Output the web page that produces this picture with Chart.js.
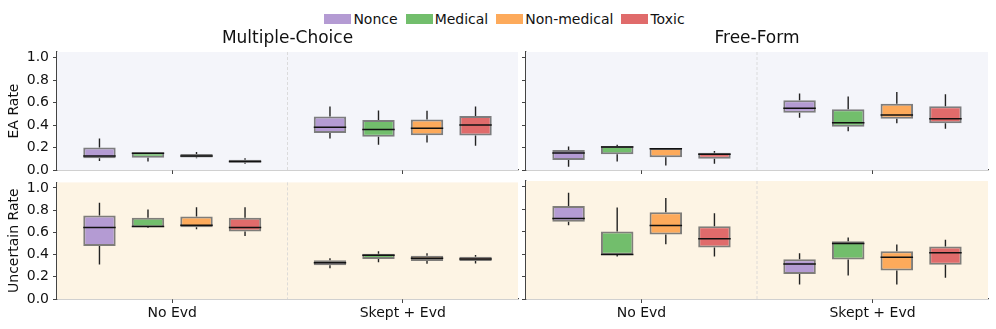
<!DOCTYPE html>
<html>
<head>
<meta charset="utf-8">
<script src="https://cdn.jsdelivr.net/npm/chart.js@4.4.1/dist/chart.umd.min.js"></script>
<style>
  html, body { margin: 0; padding: 0; background: #ffffff; }
  body { width: 996px; height: 329px; position: relative; overflow: hidden; font-family: 'DejaVu Sans', sans-serif; }
  .panel { position: absolute; }
  #legend { position: absolute; top: 11px; left: 0; width: 1009px; display: flex; justify-content: center; gap: 8px; font-size: 14px; color: #111; }
  .item { display: flex; align-items: center; }
  .swatch { width: 27px; height: 10px; margin-right: 2px; }
</style>
</head>
<body>
<div id="legend"></div>
<div class="panel" style="left:0;top:0;width:528px;height:185px"><canvas id="mcEa"></canvas></div>
<div class="panel" style="left:500px;top:0;width:496px;height:185px"><canvas id="ffEa"></canvas></div>
<div class="panel" style="left:0;top:170px;width:528px;height:159px"><canvas id="mcUnc"></canvas></div>
<div class="panel" style="left:500px;top:170px;width:496px;height:159px"><canvas id="ffUnc"></canvas></div>
<script>
// Categories and series
const categories = ['No Evd', 'Skept + Evd'];
const seriesNames = ['Nonce', 'Medical', 'Non-medical', 'Toxic'];
const seriesColors = ['#b49bd3', '#72be6c', '#fdaa5b', '#e06b6b'];
const yTicks = [0, 0.2, 0.4, 0.6, 0.8, 1.0];

// Box stats per series: one [whiskerLow, q1, median, q3, whiskerHigh] per category
const mcEaStats = [
  [[0.08, 0.105, 0.125, 0.20, 0.28], [0.28, 0.33, 0.38, 0.475, 0.565]],
  [[0.075, 0.11, 0.15, 0.157, 0.157], [0.225, 0.295, 0.36, 0.445, 0.53]],
  [[0.105, 0.112, 0.125, 0.142, 0.16], [0.245, 0.31, 0.372, 0.45, 0.528]],
  [[0.055, 0.065, 0.075, 0.092, 0.105], [0.215, 0.308, 0.40, 0.48, 0.565]]
];
const ffEaStats = [
  [[0.03, 0.09, 0.152, 0.178, 0.208], [0.465, 0.51, 0.55, 0.62, 0.68]],
  [[0.075, 0.14, 0.205, 0.214, 0.225], [0.345, 0.385, 0.42, 0.54, 0.655]],
  [[0.04, 0.113, 0.19, 0.196, 0.196], [0.415, 0.457, 0.49, 0.59, 0.695]],
  [[0.055, 0.10, 0.14, 0.154, 0.168], [0.368, 0.415, 0.457, 0.567, 0.674]]
];
const mcUncStats = [
  [[0.31, 0.478, 0.643, 0.753, 0.866], [0.278, 0.305, 0.327, 0.348, 0.366]],
  [[0.64, 0.646, 0.652, 0.732, 0.806], [0.33, 0.36, 0.393, 0.407, 0.43]],
  [[0.628, 0.646, 0.665, 0.744, 0.827], [0.318, 0.342, 0.366, 0.389, 0.413]],
  [[0.568, 0.607, 0.643, 0.732, 0.827], [0.32, 0.342, 0.36, 0.38, 0.396]]
];
const ffUncStats = [
  [[0.657, 0.687, 0.717, 0.827, 0.946], [0.13, 0.223, 0.312, 0.354, 0.407]],
  [[0.378, 0.393, 0.396, 0.601, 0.815], [0.208, 0.351, 0.494, 0.514, 0.547]],
  [[0.488, 0.574, 0.654, 0.773, 0.898], [0.13, 0.253, 0.371, 0.425, 0.485]],
  [[0.378, 0.458, 0.536, 0.648, 0.764], [0.188, 0.304, 0.411, 0.467, 0.527]]
];

const spineColor = '#444444';
const textColor = '#111111';
const font = "'DejaVu Sans', sans-serif";

// Panel background, divider, whiskers and medians
const boxPlugin = {
  id: 'boxExtras',
  beforeDatasetsDraw(chart) {
    const { ctx, chartArea: a, scales } = chart;
    ctx.save();
    ctx.fillStyle = chart.options.plugins.boxExtras.bg;
    ctx.fillRect(a.left, a.top, a.right - a.left, a.bottom - a.top);
    const mid = (scales.x.getPixelForValue(0) + scales.x.getPixelForValue(1)) / 2;
    ctx.strokeStyle = '#d4d4d4';
    ctx.lineWidth = 0.8;
    ctx.setLineDash([3, 2]);
    ctx.beginPath();
    ctx.moveTo(mid, a.top);
    ctx.lineTo(mid, a.bottom);
    ctx.stroke();
    ctx.restore();
  },
  afterDatasetsDraw(chart) {
    const { ctx, scales } = chart;
    const stats = chart.options.plugins.boxExtras.stats;
    const y = scales.y;
    ctx.save();
    stats.forEach((s, di) => {
      chart.getDatasetMeta(di).data.forEach((bar, ci) => {
        const [lo, q1, med, q3, hi] = s[ci];
        const half = bar.width / 2;
        ctx.strokeStyle = '#222222';
        ctx.lineWidth = 1.4;
        ctx.beginPath();
        ctx.moveTo(bar.x, y.getPixelForValue(q3));
        ctx.lineTo(bar.x, y.getPixelForValue(hi));
        ctx.moveTo(bar.x, y.getPixelForValue(q1));
        ctx.lineTo(bar.x, y.getPixelForValue(lo));
        ctx.stroke();
        ctx.strokeStyle = '#111111';
        ctx.lineWidth = 1.5;
        ctx.beginPath();
        ctx.moveTo(bar.x - half, y.getPixelForValue(med));
        ctx.lineTo(bar.x + half, y.getPixelForValue(med));
        ctx.stroke();
      });
    });
    ctx.restore();
  }
};

function makePanel(id, stats, opts) {
  const ctx = document.getElementById(id).getContext('2d');
  return new Chart(ctx, {
    type: 'bar',
    data: {
      labels: categories,
      datasets: seriesNames.map((name, i) => ({
        label: name,
        data: stats[i].map(s => [s[1], s[3]]), // box from q1 to q3
        backgroundColor: seriesColors[i],
        borderColor: 'rgba(95, 95, 95, 0.8)',
        borderWidth: 2,
        borderSkipped: false,
        barPercentage: 0.668,
        categoryPercentage: 0.842
      }))
    },
    options: {
      responsive: true,
      maintainAspectRatio: false,
      animation: false,
      events: [],
      layout: { padding: { top: opts.padTop, right: opts.padRight, left: 0, bottom: 0 } },
      scales: {
        x: {
          afterFit: s => { s.height = opts.xHeight; },
          grid: { offset: false, drawOnChartArea: false, tickLength: 4, tickColor: spineColor, tickWidth: 1 },
          border: { display: true, color: spineColor, width: 1.3 },
          ticks: { display: opts.showX, color: textColor, padding: 2, font: { size: 14, family: font } }
        },
        y: {
          min: 0,
          max: 1.05,
          afterFit: s => { s.width = opts.yWidth; },
          afterBuildTicks: s => { s.ticks = yTicks.map(v => ({ value: v })); },
          grid: { drawOnChartArea: false, tickLength: 4, tickColor: spineColor, tickWidth: 1 },
          border: { display: true, color: spineColor, width: 1.3 },
          ticks: {
            display: opts.showY,
            color: textColor,
            padding: 4,
            font: { size: 14, family: font },
            callback: v => v.toFixed(1)
          },
          title: {
            display: !!opts.yTitle,
            text: opts.yTitle || '',
            color: textColor,
            padding: { top: 6, bottom: 0 },
            font: { size: 14, family: font }
          }
        }
      },
      plugins: {
        legend: { display: false },
        tooltip: { enabled: false },
        title: {
          display: !!opts.title,
          text: opts.title || '',
          fullSize: false,
          color: textColor,
          padding: { top: 28, bottom: 3.6 },
          font: { size: 17, weight: 'normal', family: font }
        },
        boxExtras: { stats: stats, bg: opts.bg }
      }
    },
    plugins: [boxPlugin]
  });
}

// Legend built from the series arrays
function buildLegend() {
  const legend = document.getElementById('legend');
  seriesNames.forEach((name, i) => {
    legend.innerHTML += `<div class="item"><span class="swatch" style="background:${seriesColors[i]}"></span><span>${name}</span></div>`;
  });
}

buildLegend();
makePanel('mcEa', mcEaStats, { title: 'Multiple-Choice', yTitle: 'EA Rate', showY: true, showX: false, yWidth: 57, xHeight: 15, padTop: 0, padRight: 10, bg: '#f4f5fa' });
makePanel('ffEa', ffEaStats, { title: 'Free-Form', showY: false, showX: false, yWidth: 26, xHeight: 15, padTop: 0, padRight: 8, bg: '#f4f5fa' });
makePanel('mcUnc', mcUncStats, { yTitle: 'Uncertain Rate', showY: true, showX: true, yWidth: 57, xHeight: 30, padTop: 11, padRight: 10, bg: '#fdf4e4' });
makePanel('ffUnc', ffUncStats, { showY: false, showX: true, yWidth: 26, xHeight: 30, padTop: 11, padRight: 8, bg: '#fdf4e4' });
</script>
</body>
</html>
